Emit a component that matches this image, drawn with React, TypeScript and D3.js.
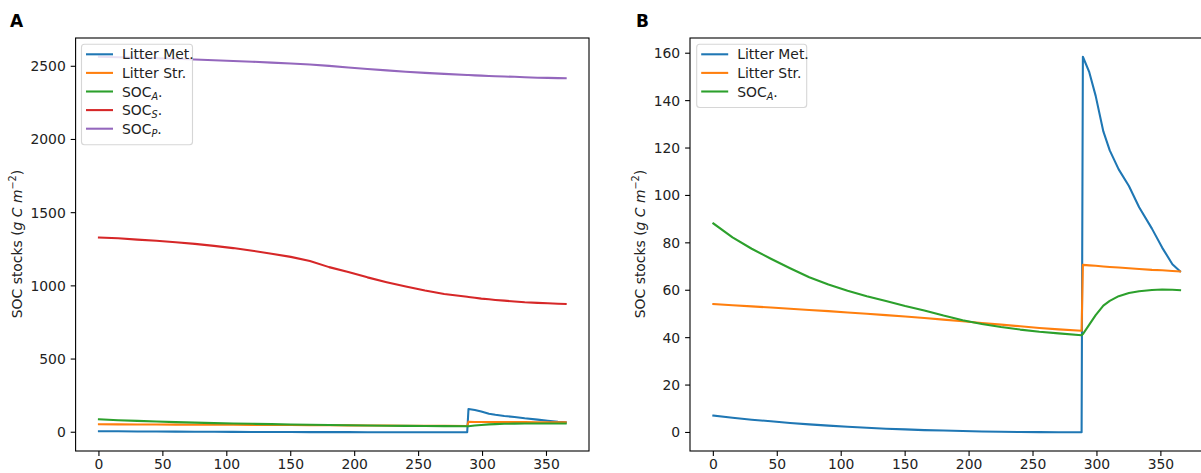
import React from 'react';
import * as d3 from 'd3';

// ---- Data ----
const days = [0, 15, 30, 45, 60, 75, 90, 105, 120, 135, 150, 165, 180, 195, 210, 225, 240, 255, 270, 288, 289, 294, 299, 305, 310, 317, 325, 333, 343, 351, 359, 365];

const litterMet = [7.1, 6.2, 5.4, 4.7, 4.0, 3.4, 2.9, 2.4, 2.0, 1.6, 1.3, 1.0, 0.8, 0.6, 0.4, 0.3, 0.2, 0.15, 0.12, 0.1, 158.5, 152, 142, 127, 119, 111, 104, 95, 86, 78, 71, 68];
const litterStr = [54.2, 53.7, 53.2, 52.7, 52.2, 51.7, 51.2, 50.6, 50.1, 49.5, 48.9, 48.3, 47.6, 46.9, 46.2, 45.5, 44.8, 44.1, 43.5, 42.9, 70.7, 70.5, 70.3, 70.0, 69.8, 69.6, 69.3, 69.0, 68.6, 68.4, 68.1, 67.9];
const socA = [88.2, 82.3, 77.5, 73.3, 69.3, 65.5, 62.4, 59.8, 57.5, 55.5, 53.4, 51.5, 49.3, 47.3, 45.8, 44.5, 43.4, 42.5, 41.8, 41.0, 41.5, 45.5, 49.5, 53.5, 55.5, 57.5, 58.8, 59.6, 60.1, 60.3, 60.2, 60.0];
const socS = [1330, 1325, 1316, 1308, 1298, 1287, 1273, 1258, 1240, 1220, 1198, 1170, 1128, 1095, 1058, 1025, 995, 968, 945, 925, 924, 919, 913, 908, 904, 899, 893, 888, 884, 881, 878, 876];
const socP = [2565, 2562, 2558, 2555, 2551, 2546, 2541, 2536, 2531, 2525, 2519, 2512, 2503, 2492, 2482, 2472, 2463, 2455, 2448, 2440, 2440, 2438, 2436, 2434, 2432, 2430, 2428, 2425, 2422, 2421, 2419, 2418];

const xTicks = [0, 50, 100, 150, 200, 250, 300, 350];
const yTicksA = [0, 500, 1000, 1500, 2000, 2500];
const yTicksB = [0, 20, 40, 60, 80, 100, 120, 140, 160];

type Series = { name: string; sub?: string; values: number[]; color: string };

const seriesMet: Series = { name: 'Litter Met.', values: litterMet, color: '#1f77b4' };
const seriesStr: Series = { name: 'Litter Str.', values: litterStr, color: '#ff7f0e' };
const seriesA: Series = { name: 'SOC', sub: 'A', values: socA, color: '#2ca02c' };
const seriesS: Series = { name: 'SOC', sub: 'S', values: socS, color: '#d62728' };
const seriesP: Series = { name: 'SOC', sub: 'P', values: socP, color: '#9467bd' };

const FONT = "'DejaVu Sans', sans-serif";
const FS = 13.9;

function Label({ s, x, y }: { s: Series; x: number; y: number }) {
  if (!s.sub) {
    return <text x={x} y={y} fontSize={FS} fontFamily={FONT} fill="#222">{s.name}</text>;
  }
  return (
    <text x={x} y={y} fontSize={FS} fontFamily={FONT} fill="#222">
      {s.name}
      <tspan fontSize={FS * 0.7} fontStyle="italic" dy={3}>{s.sub}</tspan>
      <tspan dy={-3}>.</tspan>
    </text>
  );
}

type PanelProps = {
  letter: string;
  letterX: number;
  xRange: [number, number];
  yDomain: [number, number];
  yTicks: number[];
  series: Series[];
  legendX: number;
  legendW: number;
  ylabelX: number;
};

function Panel(p: PanelProps) {
  const top = 38;
  const bottom = 451;
  const x = d3.scaleLinear().domain([-18.25, 383.25]).range(p.xRange);
  const y = d3.scaleLinear().domain(p.yDomain).range([bottom, top]);
  const line = d3
    .line<number>()
    .x((_, i) => x(days[i]))
    .y((v) => y(v));
  const [x0, x1] = p.xRange;
  const clipId = 'clip' + p.letter;
  const legTop = 44.3;
  const rowH = 18.6;
  const legH = 12 + rowH * (p.series.length - 1) + 10 + 4;
  return (
    <g>
      <defs>
        <clipPath id={clipId}>
          <rect x={x0} y={top} width={x1 - x0} height={bottom - top} />
        </clipPath>
      </defs>
      <text x={p.letterX} y={27} fontSize={17} fontWeight="bold" fontFamily={FONT} fill="#000">{p.letter}</text>
      <g clipPath={`url(#${clipId})`}>
        {p.series.map((s) => (
          <path key={s.name + (s.sub || '')} d={line(s.values) || ''} fill="none" stroke={s.color} strokeWidth={2.08} strokeLinejoin="round" strokeLinecap="square" />
        ))}
      </g>
      {/* spines */}
      <rect x={x0} y={top} width={x1 - x0} height={bottom - top} fill="none" stroke="#000" strokeWidth={1.1} />
      {/* x ticks */}
      {xTicks.map((t) => (
        <g key={'x' + t}>
          <line x1={x(t)} x2={x(t)} y1={bottom} y2={bottom + 4.9} stroke="#000" strokeWidth={1.1} />
          <text x={x(t)} y={468.5} textAnchor="middle" fontSize={FS} fontFamily={FONT} fill="#222">{t}</text>
        </g>
      ))}
      {/* y ticks */}
      {p.yTicks.map((t) => (
        <g key={'y' + t}>
          <line x1={x0 - 4.9} x2={x0} y1={y(t)} y2={y(t)} stroke="#000" strokeWidth={1.1} />
          <text x={x0 - 9.8} y={y(t) + 5} textAnchor="end" fontSize={FS} fontFamily={FONT} fill="#222">{t}</text>
        </g>
      ))}
      {/* y label */}
      <text transform={`translate(${p.ylabelX},244) rotate(-90)`} textAnchor="middle" fontSize={FS} fontFamily={FONT} fill="#222">
        SOC stocks (<tspan fontStyle="italic">g C m</tspan>
        <tspan fontSize={FS * 0.7} dy={-6}>−2</tspan>
        <tspan dy={6}>)</tspan>
      </text>
      {/* legend */}
      <rect x={p.legendX} y={legTop} width={p.legendW} height={legH} rx={3} ry={3} fill="#fff" fillOpacity={0.8} stroke="#ccc" strokeOpacity={0.8} strokeWidth={1.1} />
      {p.series.map((s, i) => {
        const ly = legTop + 10 + i * rowH;
        return (
          <g key={'l' + i}>
            <line x1={p.legendX + 4.5} x2={p.legendX + 31.5} y1={ly} y2={ly} stroke={s.color} strokeWidth={2.08} />
            <Label s={s} x={p.legendX + 40.5} y={ly + 5} />
          </g>
        );
      })}
    </g>
  );
}

export default function App() {
  const allA = [seriesMet, seriesStr, seriesA, seriesS, seriesP];
  const allB = [seriesMet, seriesStr, seriesA];
  const extA = d3.extent(allA.flatMap((s) => s.values)) as [number, number];
  const extB = d3.extent(allB.flatMap((s) => s.values)) as [number, number];
  const padA = (extA[1] - extA[0]) * 0.05;
  const padB = (extB[1] - extB[0]) * 0.05;
  return (
    <svg width={1201} height={473} style={{ position: 'absolute', left: 0, top: 0, background: '#fff' }}>
      <rect width={1201} height={473} fill="#fff" />
      <Panel letter="A" letterX={10} xRange={[75.6, 589]} yDomain={[extA[0] - padA, extA[1] + padA]} yTicks={yTicksA} series={allA} legendX={81.5} legendW={111} ylabelX={22} />
      <Panel letter="B" letterX={636} xRange={[690, 1203.4]} yDomain={[extB[0] - padB, extB[1] + padB]} yTicks={yTicksB} series={allB} legendX={696.7} legendW={110} ylabelX={645} />
    </svg>
  );
}
